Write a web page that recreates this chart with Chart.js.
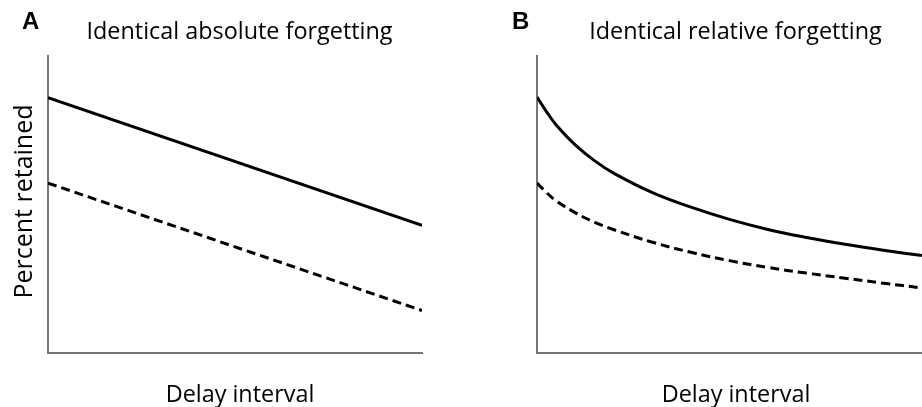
<!DOCTYPE html>
<html>
<head>
<meta charset="utf-8">
<script src="https://cdn.jsdelivr.net/npm/chart.js@4"></script>
<style>
  html, body { margin: 0; padding: 0; background: #fff; overflow: hidden; width: 922px; height: 407px; }
  .panel { position: absolute; top: 0; }
  #panelA { left: 0; }
  #panelB { left: 461px; }
</style>
</head>
<body>
<div class="panel" id="panelA"><canvas id="chartA" width="461" height="407"></canvas></div>
<div class="panel" id="panelB"><canvas id="chartB" width="480" height="407"></canvas></div>
<script>
// Panel A: linear loss, same number of points lost for both groups
const delayA = [0, 10];
const absoluteHigh = [86.0, 43.0];
const absoluteLow = [57.2, 14.3];

// Panel B: curvilinear loss, same proportion lost for both groups
const delayB = [0, 0.25, 0.5, 1, 1.5, 2, 3, 4, 5, 6, 7, 8, 9, 10];
const relativeHigh = [86.2, 81.2, 76.8, 70.0, 64.7, 60.5, 54.0, 49.1, 45.0, 41.6, 38.9, 36.6, 34.6, 32.8];
const relativeLow = [57.2, 54.0, 51.2, 47.2, 44.0, 41.5, 37.3, 33.9, 31.1, 28.8, 26.9, 25.2, 23.5, 21.9];

const panelLetters = ['A', 'B'];
const panelTitles = ['Identical absolute forgetting', 'Identical relative forgetting'];
const xAxisLabel = 'Delay interval';
const yAxisLabel = 'Percent retained';

const textFont = '"Open Sans", "Noto Sans", sans-serif';
const letterFont = 'bold 24px "Liberation Sans", Arial, sans-serif';

// Draws the panel letter, heading and axis labels around the plot area
const panelText = {
  id: 'panelText',
  afterDraw(chart, args, opts) {
    const ctx = chart.ctx;
    ctx.save();
    ctx.fillStyle = '#000';
    ctx.textBaseline = 'alphabetic';

    ctx.font = letterFont;
    ctx.textAlign = 'left';
    ctx.fillText(opts.letter, opts.letterX, opts.letterY);

    ctx.font = opts.textSize + 'px ' + textFont;
    ctx.textAlign = 'center';
    ctx.fillText(opts.title, opts.titleX, opts.titleY);
    ctx.fillText(opts.xLabel, opts.xLabelX, opts.xLabelY);

    if (opts.yLabel) {
      ctx.font = opts.yLabelSize + 'px ' + textFont;
      ctx.translate(opts.yLabelX, opts.yLabelY);
      ctx.rotate(-Math.PI / 2);
      ctx.fillText(opts.yLabel, 0, 0);
    }
    ctx.restore();
  }
};

function lineSet(xs, ys, dashed, smooth) {
  return {
    data: xs.map((x, i) => ({ x: x, y: ys[i] })),
    borderColor: '#000',
    borderWidth: 3,
    borderDash: dashed ? [9, 5] : [],
    borderCapStyle: 'butt',
    pointRadius: 0,
    fill: false,
    cubicInterpolationMode: 'default',
    tension: smooth ? 0.4 : 0
  };
}

function axis(max) {
  return {
    type: 'linear',
    min: 0,
    max: max,
    grid: { display: false, drawTicks: false },
    ticks: { display: false },
    border: { display: true, color: '#777', width: 2 }
  };
}

function makeChart(id, datasets, xMax, padding, text) {
  return new Chart(document.getElementById(id), {
    type: 'line',
    data: { datasets: datasets },
    options: {
      responsive: false,
      animation: false,
      layout: { padding: padding },
      scales: { x: axis(xMax), y: axis(100) },
      plugins: {
        legend: { display: false },
        tooltip: { enabled: false },
        panelText: text
      }
    },
    plugins: [panelText]
  });
}

makeChart('chartA',
  [lineSet(delayA, absoluteHigh, false, false), lineSet(delayA, absoluteLow, true, false)],
  10,
  { left: 48, right: 39, top: 56, bottom: 54 },
  {
    letter: panelLetters[0], letterX: 22, letterY: 28.5,
    title: panelTitles[0], titleX: 239.5, titleY: 39,
    xLabel: xAxisLabel, xLabelX: 240, xLabelY: 402,
    yLabel: yAxisLabel, yLabelX: 32, yLabelY: 201.5, yLabelSize: 25,
    textSize: 23.4
  });

makeChart('chartB',
  [lineSet(delayB, relativeHigh, false, true), lineSet(delayB, relativeLow, true, true)],
  10.34,
  { left: 76, right: 6, top: 56, bottom: 54 },
  {
    letter: panelLetters[1], letterX: 51, letterY: 28.5,
    title: panelTitles[1], titleX: 274.5, titleY: 39,
    xLabel: xAxisLabel, xLabelX: 275, xLabelY: 402,
    yLabel: null,
    textSize: 23.4
  });
</script>
</body>
</html>
